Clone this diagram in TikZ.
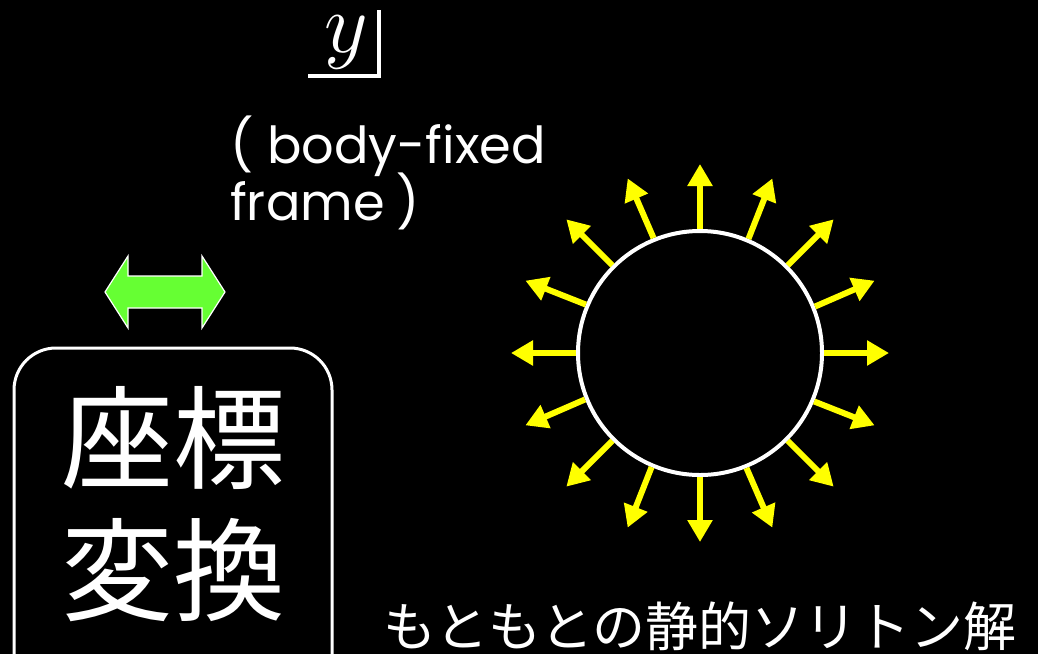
\documentclass[tikz,border=0pt]{standalone}
\usepackage{fix-cm}
\usepackage{fontspec}
\setmainfont{Liberation Serif}
\newfontfamily\cjk{Noto Sans CJK JP}
\newfontfamily\geo{Poppins}
\usetikzlibrary{arrows.meta,calc}
\definecolor{ray}{RGB}{255,255,0}
\definecolor{grn}{RGB}{102,255,51}
\tikzset{
  rayarrow/.style={draw=ray, line width=6pt, -{Triangle[width=24pt,length=22pt]}},
  wtext/.style={text=white, inner sep=0pt},
  geotext/.style={wtext, anchor=base west, font=\geo\fontsize{51}{52}\selectfont},
}
\DeclareMathSizes{85}{85}{60}{45}
\begin{document}
\begin{tikzpicture}[x=1pt,y=-1pt]
\useasboundingbox (0,0) rectangle (1038,654);
\fill[black] (0,0) rectangle (1038,654);
\clip (0,0) rectangle (1038,654);
% y corner
\node[wtext, anchor=base west, font=\fontsize{85}{86}\selectfont] (ylab) at (324,52) {$y$};
\coordinate (c1) at (308,76);
\coordinate (c2) at (379,76);
\coordinate (c3) at (379,10);
\draw[white, line width=4pt] (c1) -- (c2) -- (c3);
% body-fixed frame
\node[geotext] (bf1) at (230,163) {(\hspace{14pt}body-fixed};
\node[geotext] (bf2) at (230,220) {frame\hspace{12pt})};
% green double arrow
\path[fill=grn, draw=white, line width=1.2pt] (105,292) -- (128,256) -- (128,276) -- (202,276) -- (202,256) -- (225,292) -- (202,328) -- (202,308) -- (128,308) -- (128,328) -- cycle;
\node[inner sep=0pt] (dbl) at (165,292) {};
% rounded box
\draw[white, line width=3pt, rounded corners=42pt] (14,348) rectangle (332,700);
\node[wtext, anchor=base, font=\cjk\fontsize{112}{112}\selectfont] (r1) at (173,480) {座標};
\node[wtext, anchor=base, font=\cjk\fontsize{112}{112}\selectfont] (r2) at (173,612) {変換};
% soliton
\node[draw=white, line width=4pt, circle, minimum size=244pt, inner sep=0pt] (sol) at (700,353) {};
\foreach \a in {0,22.5,...,337.5}{
  \draw[rayarrow] (sol.\a) -- ($(sol.center)+(\a:189pt)$);
}
\node[wtext, anchor=base, font=\cjk\fontsize{53}{53}\selectfont] (cap) at (700,646) {もともとの静的ソリトン解};
\end{tikzpicture}
\end{document}
